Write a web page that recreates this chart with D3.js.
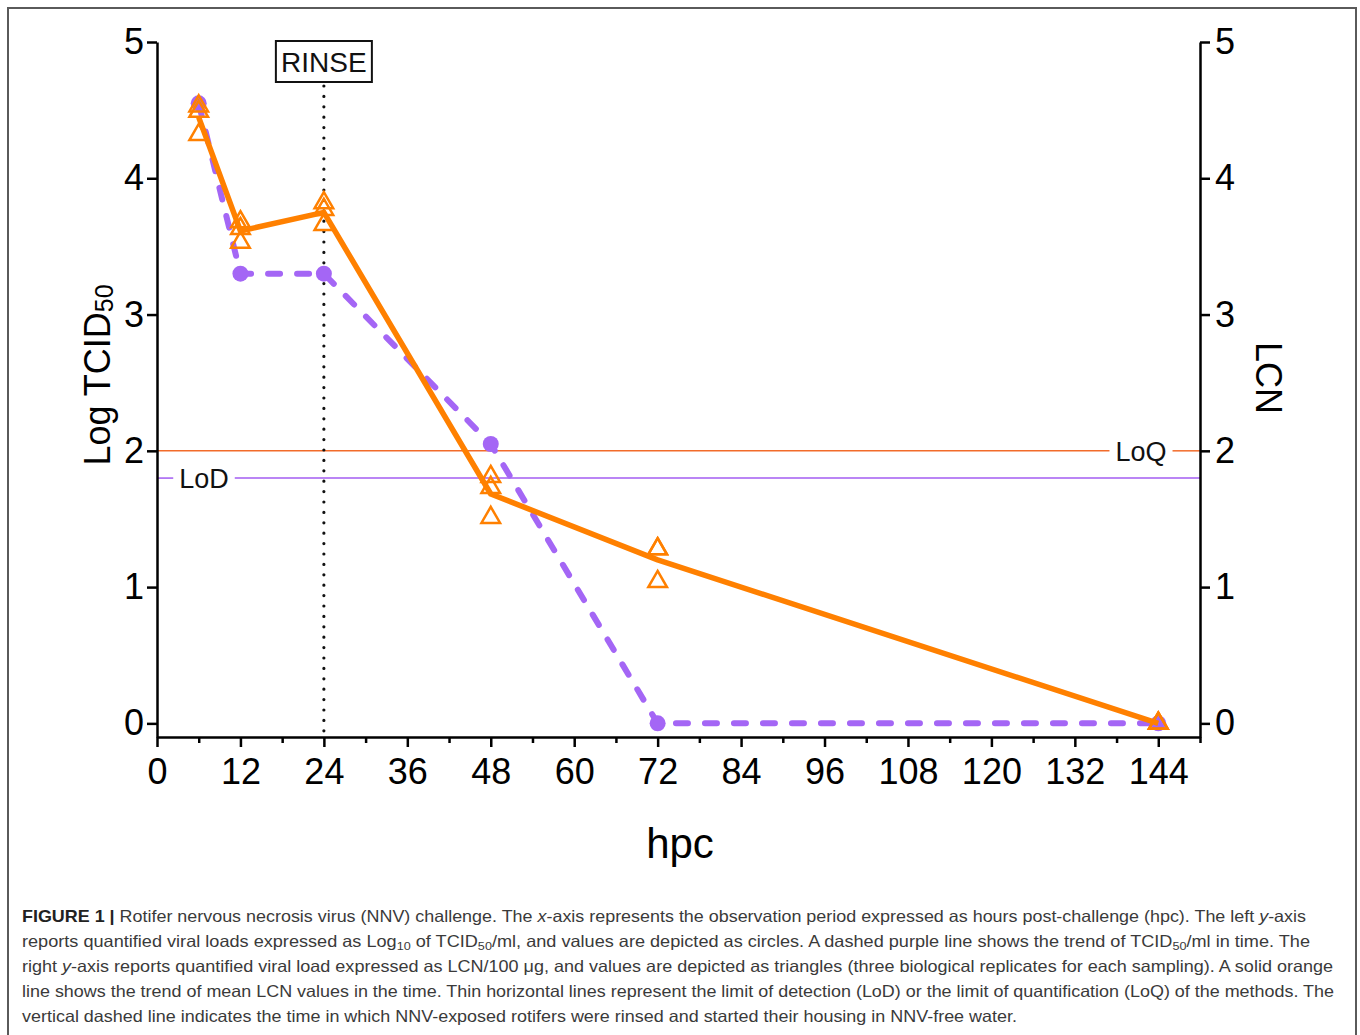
<!DOCTYPE html>
<html>
<head>
<meta charset="utf-8">
<script src="https://cdn.jsdelivr.net/npm/d3@7"></script>
<style>
body { margin: 0; background: #fff; }
text { font-family: "Liberation Sans", Arial, Helvetica, sans-serif; }
</style>
</head>
<body>
<div id="chart"></div>
<script>
// ----- data -----
const hpc = [6, 12, 24, 48, 72, 144];
const tcid50 = [4.55, 3.3, 3.3, 2.05, 0, 0];          // Log TCID50 (circles)
const lcnRep1 = [4.53, 3.68, 3.82, 1.81, 1.28, 0];    // LCN replicates (triangles)
const lcnRep2 = [4.49, 3.63, 3.77, 1.73, 1.28, 0];
const lcnRep3 = [4.32, 3.53, 3.66, 1.51, 1.04, 0];
const xTicks = [0, 12, 24, 36, 48, 60, 72, 84, 96, 108, 120, 132, 144];
const xMinorTicks = [6, 18, 30, 42, 54, 66, 78, 90, 102, 114, 126, 138, 150];
const yTicks = [0, 1, 2, 3, 4, 5];
const loq = 2, lod = 1.8, rinseAt = 24;

const captionLines = [
  [["FIGURE 1 | ", "b"], ["Rotifer nervous necrosis virus (NNV) challenge. The "], ["x", "i"], ["-axis represents the observation period expressed as hours post-challenge (hpc). The left "], ["y", "i"], ["-axis"]],
  [["reports quantified viral loads expressed as Log"], ["10", "sub"], [" of TCID"], ["50", "sub"], ["/ml, and values are depicted as circles. A dashed purple line shows the trend of TCID"], ["50", "sub"], ["/ml in time. The"]],
  [["right "], ["y", "i"], ["-axis reports quantified viral load expressed as LCN/100 μg, and values are depicted as triangles (three biological replicates for each sampling). A solid orange"]],
  [["line shows the trend of mean LCN values in the time. Thin horizontal lines represent the limit of detection (LoD) or the limit of quantification (LoQ) of the methods. The"]],
  [["vertical dashed line indicates the time in which NNV-exposed rotifers were rinsed and started their housing in NNV-free water."]]
];
const captionWidths = [1284, 1288, 1311, 1312, 995];

const purple = "#a466f5", orange = "#ff8000";

// ----- svg -----
const svg = d3.select("#chart").append("svg")
  .attr("width", 1360)
  .attr("height", 1035);

// figure frame
svg.append("rect")
  .attr("x", 8).attr("y", 8)
  .attr("width", 1348).attr("height", 1050)
  .attr("fill", "none")
  .attr("stroke", "#5a5a5a")
  .attr("stroke-width", 2);

const x = d3.scaleLinear().domain([0, 150]).range([157, 1200]);
const y = d3.scaleLinear().domain([-0.1, 5]).range([737, 42]);

// ----- limit lines -----
function limitLine(value, color, label, labelX) {
  const t = svg.append("text")
    .attr("x", labelX)
    .attr("y", y(value))
    .attr("dy", "0.36em")
    .attr("text-anchor", "middle")
    .attr("font-size", 27)
    .attr("fill", "#111")
    .text(label);
  const bb = t.node().getBBox();
  const segs = [[x.range()[0], bb.x - 6], [bb.x + bb.width + 6, x.range()[1]]];
  svg.insert("g", "text").selectAll("line")
    .data(segs)
    .join("line")
    .attr("x1", d => d[0]).attr("x2", d => d[1])
    .attr("y1", y(value)).attr("y2", y(value))
    .attr("stroke", color)
    .attr("stroke-width", 1.5);
}
limitLine(loq, "#f26b2a", "LoQ", x.range()[1] - 59);
limitLine(lod, "#a35cf2", "LoD", x.range()[0] + 47);

// ----- rinse marker -----
svg.append("line")
  .attr("x1", x(rinseAt)).attr("x2", x(rinseAt))
  .attr("y1", 86).attr("y2", y.range()[0])
  .attr("stroke", "#111")
  .attr("stroke-width", 3.2)
  .attr("stroke-linecap", "round")
  .attr("stroke-dasharray", "0,10.4");

svg.append("rect")
  .attr("x", x(rinseAt) - 48).attr("y", 41)
  .attr("width", 96).attr("height", 41)
  .attr("fill", "#fff")
  .attr("stroke", "#111")
  .attr("stroke-width", 2);
svg.append("text")
  .attr("x", x(rinseAt)).attr("y", 72)
  .attr("text-anchor", "middle")
  .attr("font-size", 28)
  .attr("fill", "#111")
  .text("RINSE");

// ----- TCID50 series (dashed purple + circles) -----
const tcidPts = hpc.map((h, i) => [h, tcid50[i]]);
svg.append("path")
  .datum(tcidPts)
  .attr("fill", "none")
  .attr("stroke", purple)
  .attr("stroke-width", 6)
  .attr("stroke-linecap", "round")
  .attr("stroke-dasharray", "12,17")
  .attr("d", d3.line().x(d => x(d[0])).y(d => y(d[1])));

svg.append("g").selectAll("circle")
  .data(tcidPts)
  .join("circle")
  .attr("cx", d => x(d[0]))
  .attr("cy", d => y(d[1]))
  .attr("r", 8)
  .attr("fill", purple);

// ----- LCN series (solid orange mean + triangles) -----
const reps = [lcnRep1, lcnRep2, lcnRep3];
const lcnMean = hpc.map((h, i) => [h, d3.mean(reps, r => r[i])]);
svg.append("path")
  .datum(lcnMean)
  .attr("fill", "none")
  .attr("stroke", orange)
  .attr("stroke-width", 5.5)
  .attr("stroke-linejoin", "round")
  .attr("d", d3.line().x(d => x(d[0])).y(d => y(d[1])));

const triPts = reps.flatMap(r => hpc.map((h, i) => [h, r[i]]));
svg.append("g").selectAll("path")
  .data(triPts)
  .join("path")
  .attr("transform", d => `translate(${x(d[0])},${y(d[1])})`)
  .attr("d", d3.symbol(d3.symbolTriangle, 150))
  .attr("fill", "none")
  .attr("stroke", orange)
  .attr("stroke-width", 2.5);

// ----- axes -----
function styleAxis(g) {
  g.selectAll("path, line").attr("stroke", "#000").attr("stroke-width", 2.5);
  g.selectAll("text").attr("font-size", 36).attr("fill", "#000")
    .attr("font-family", "'Liberation Sans', Arial, sans-serif");
}
const fmt = d3.format("d");

svg.append("g")
  .attr("transform", `translate(${x.range()[0]},0)`)
  .call(d3.axisLeft(y).tickValues(yTicks).tickFormat(fmt).tickSize(10).tickSizeOuter(0).tickPadding(3))
  .call(styleAxis);

svg.append("g")
  .attr("transform", `translate(${x.range()[1]},0)`)
  .call(d3.axisRight(y).tickValues(yTicks).tickFormat(fmt).tickSize(10).tickSizeOuter(0).tickPadding(5))
  .call(styleAxis);

svg.append("g")
  .attr("transform", `translate(0,${y.range()[0]})`)
  .call(d3.axisBottom(x).tickValues(xMinorTicks).tickSize(6).tickSizeOuter(0).tickFormat(""))
  .call(g => g.select(".domain").remove())
  .call(styleAxis);

svg.append("g")
  .attr("transform", `translate(0,${y.range()[0]})`)
  .call(d3.axisBottom(x).tickValues(xTicks).tickFormat(fmt).tickSize(10).tickSizeOuter(0).tickPadding(11))
  .call(styleAxis);

// ----- axis titles -----
const yTitle = svg.append("text")
  .attr("transform", "translate(110,375) rotate(-90)")
  .attr("text-anchor", "middle")
  .attr("font-size", 36)
  .attr("fill", "#000");
yTitle.append("tspan").text("Log TCID");
yTitle.append("tspan").attr("font-size", 25).attr("dy", 3).text("50");

svg.append("text")
  .attr("transform", "translate(1256,378) rotate(90)")
  .attr("text-anchor", "middle")
  .attr("font-size", 36)
  .attr("fill", "#000")
  .text("LCN");

svg.append("text")
  .attr("x", 680).attr("y", 858)
  .attr("text-anchor", "middle")
  .attr("font-size", 42)
  .attr("fill", "#000")
  .text("hpc");

// ----- caption -----
captionLines.forEach((segs, li) => {
  const t = svg.append("text")
    .attr("x", 22)
    .attr("y", 922 + li * 25)
    .attr("font-size", 16.5)
    .attr("fill", "#3a3a3a")
    .attr("textLength", captionWidths[li])
    .attr("lengthAdjust", "spacingAndGlyphs");
  segs.forEach(([txt, st]) => {
    const s = t.append("tspan").text(txt);
    if (st === "b") s.attr("font-weight", "bold").attr("fill", "#222");
    if (st === "i") s.attr("font-style", "italic");
    if (st === "sub") s.attr("font-size", 11.5).attr("baseline-shift", "-3");
  });
});
</script>
</body>
</html>
